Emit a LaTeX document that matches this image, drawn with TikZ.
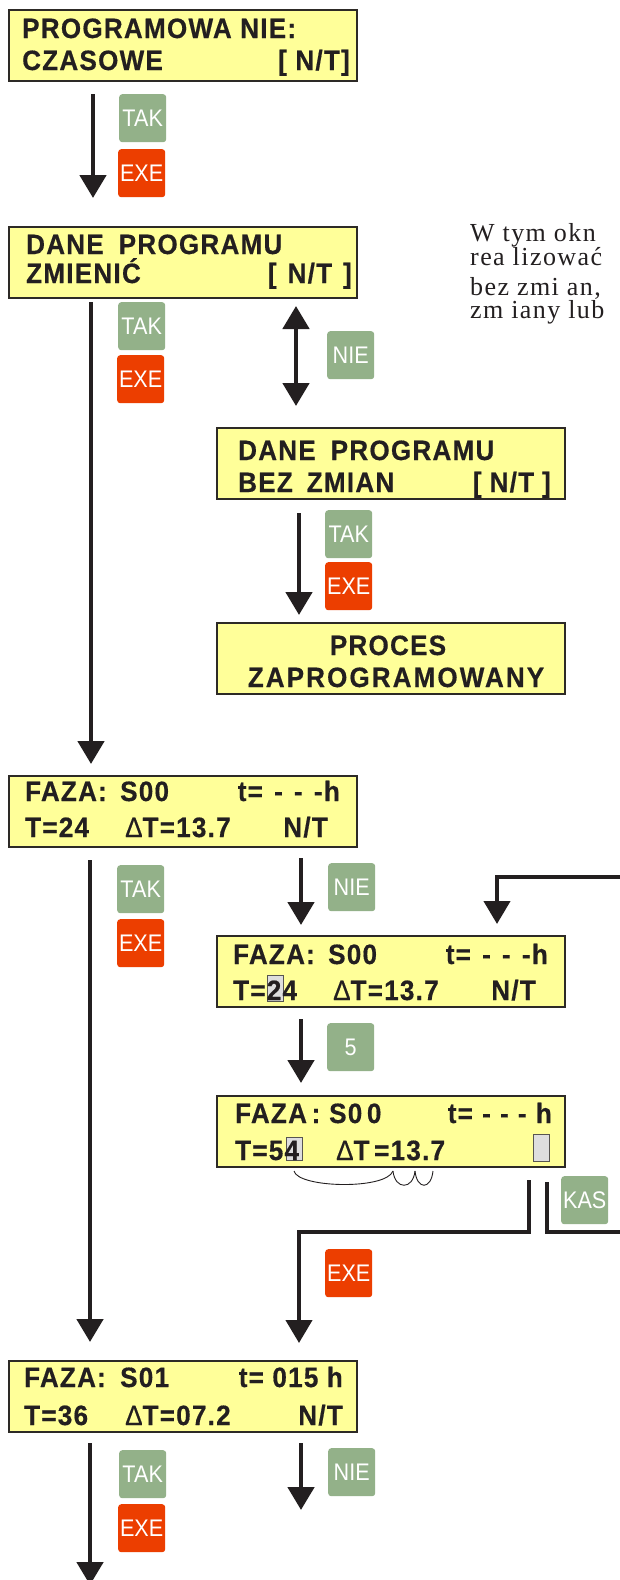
\documentclass[tikz,border=0pt]{standalone}
\usepackage{fontspec}
\setmainfont{Liberation Sans}
\newfontfamily\lcdfont{Liberation Sans}[LetterSpace=4.5,FakeStretch=0.93,FakeBold=0.5]
\newfontfamily\lcdwidefont{Liberation Sans}[LetterSpace=7.5,FakeStretch=0.93,FakeBold=0.5]
\newfontfamily\keyfont{Liberation Sans}[FakeStretch=0.9]
\newfontfamily\notefont{Liberation Serif}[LetterSpace=5.5]
\usetikzlibrary{arrows.meta,calc}
\definecolor{lcdfill}{RGB}{255,255,153}
\definecolor{lcdline}{RGB}{45,42,38}
\definecolor{keygreen}{RGB}{147,177,137}
\definecolor{keyred}{RGB}{236,62,0}
\definecolor{ink}{RGB}{35,31,32}
\definecolor{cursorgray}{RGB}{222,222,222}
\begin{document}
\begin{tikzpicture}[x=1pt,y=-1pt,
  lcdbox/.style={draw=lcdline, fill=lcdfill, line width=2pt, minimum width=348pt, minimum height=71pt, anchor=north west, inner sep=0pt, outer sep=0pt},
  lcdtxt/.style={inner sep=0pt, text=ink, font=\lcdfont\bfseries\fontsize{28}{28}\selectfont},
  lw/.style={anchor=base west},
  le/.style={anchor=base east},
  lc/.style={anchor=base},
  keybase/.style={rounded corners=3pt, minimum width=47pt, minimum height=48pt, anchor=north west, inner sep=0pt, text=white, font=\keyfont\fontsize{24}{24}\selectfont},
  gkey/.style={keybase, fill=keygreen},
  rkey/.style={keybase, fill=keyred},
  arr/.style={draw=ink, line width=4.8pt, -{Triangle[width=26pt,length=23pt]}},
  darr/.style={draw=ink, line width=4.8pt, {Triangle[width=26pt,length=23pt]}-{Triangle[width=26pt,length=23pt]}},
  conn/.style={draw=ink, line width=4.3pt, line join=miter, -{Triangle[width=26pt,length=23pt]}},
  note/.style={inner sep=0pt, anchor=north west, align=left, text=ink, font=\notefont\fontsize{26}{21}\selectfont},
  cursorbox/.style={fill=cursorgray, draw=lcdline!80, line width=1pt},
  brace/.style={draw=ink, line width=0.9pt}
]
\useasboundingbox (0,0) rectangle (620,1580);
\clip (0,0) rectangle (620,1580);
\fill[white] (0,0) rectangle (620,1580);

% Box 1
\node[lcdbox] (b1) at (9,10) {};
\node[lcdtxt,lw] (b1a) at (22,38) {PROGRAMOWA NIE:};
\node[lcdtxt,lw] (b1b) at (22,70) {CZASOWE};
\node[lcdtxt,le] (b1c) at (350,70) {[ N/T]};

% Box 2
\node[lcdbox] (b2) at (9,227) {};
\node[lcdtxt,lw] (b2a) at (26,254) {DANE\hspace{15pt}PROGRAMU};
\node[lcdtxt,lw] (b2b) at (26,283) {ZMIENIĆ};
\node[lcdtxt,le] (b2c) at (352,283) {[\hspace{11pt}N/T\hspace{11pt}]};

% Box 3
\node[lcdbox] (b3) at (217,428) {};
\node[lcdtxt,lw] (b3a) at (238,460) {DANE\hspace{15pt}PROGRAMU};
\node[lcdtxt,lw] (b3b) at (238,492) {BEZ\hspace{14pt}ZMIAN};
\node[lcdtxt,le] (b3c) at (551,492) {[\hspace{8pt}N/T\hspace{8pt}]};

% Box PROCES
\node[lcdbox] (bp) at (217,623) {};
\node[lcdtxt,lc] (bpa) at (388,655) {PROCES};
\node[lcdtxt,lc,font=\lcdwidefont\bfseries\fontsize{28}{28}\selectfont] (bpb) at (396,687) {ZAPROGRAMOWANY};

% Box 4
\node[lcdbox] (b4) at (9,776) {};
\node[lcdtxt,lw] (b4a) at (25,801) {FAZA:};
\node[lcdtxt,lw] (b4b) at (120,801) {S00};
\node[lcdtxt,le] (b4c) at (340,801) {\makebox[102pt][s]{t= - - -h}};
\node[lcdtxt,lw] (b4d) at (25,837) {T=24};
\node[lcdtxt,lw] (b4e) at (125,837) {{\mdseries Δ}T=13.7};
\node[lcdtxt,le] (b4f) at (328,837) {N/T};

% Box 5
\node[lcdbox] (b5) at (217,936) {};
\draw[cursorbox] (267,975) rectangle (283,1001);
\node[lcdtxt,lw] (b5a) at (233,964) {FAZA:};
\node[lcdtxt,lw] (b5b) at (328,964) {S00};
\node[lcdtxt,le] (b5c) at (548,964) {\makebox[102pt][s]{t= - - -h}};
\node[lcdtxt,lw] (b5d) at (233,1000) {T=24};
\node[lcdtxt,lw] (b5e) at (333,1000) {{\mdseries Δ}T=13.7};
\node[lcdtxt,le] (b5f) at (536,1000) {N/T};

% Box 6
\node[lcdbox] (b6) at (217,1096) {};
\draw[cursorbox] (286,1137) rectangle (302,1160);
\draw[cursorbox] (533,1134) rectangle (549,1161);
\node[lcdtxt,lw] (b6a) at (235,1123) {FAZA\,:};
\node[lcdtxt,lw] (b6b) at (329,1123) {S0\,0};
\node[lcdtxt,le] (b6c) at (552,1123) {\makebox[104pt][s]{t= - - - h}};
\node[lcdtxt,lw] (b6d) at (235,1160) {T=54};
\node[lcdtxt,lw] (b6e) at (336,1160) {{\mdseries Δ}T\,=13.7};

% Box 7
\node[lcdbox] (b7) at (9,1361) {};
\node[lcdtxt,lw] (b7a) at (24,1387) {FAZA:};
\node[lcdtxt,lw] (b7b) at (120,1387) {S01};
\node[lcdtxt,le] (b7c) at (343,1387) {t= 015 h};
\node[lcdtxt,lw] (b7d) at (24,1425) {T=36};
\node[lcdtxt,lw] (b7e) at (125,1425) {{\mdseries Δ}T=07.2};
\node[lcdtxt,le] (b7f) at (343,1425) {N/T};

% Side note (two short paragraphs)
\node[note] (n1) at (470,223) {W tym okn\\rea lizować};
\node[note, font=\notefont\fontsize{26}{18}\selectfont] (n2) at (470,277) {bez zmi an,\\zm iany lub};

% Keys
\node[gkey] (k1) at (119,94) {TAK};
\node[rkey] (k2) at (118,149) {EXE};
\node[gkey] (k3) at (118,302) {TAK};
\node[rkey] (k4) at (117,355) {EXE};
\node[gkey] (k5) at (327,331) {NIE};
\node[gkey] (k6) at (325,510) {TAK};
\node[rkey] (k7) at (325,562) {EXE};
\node[gkey] (k8) at (117,865) {TAK};
\node[rkey] (k9) at (117,919) {EXE};
\node[gkey] (k10) at (328,863) {NIE};
\node[gkey] (k11) at (327,1023) {5};
\node[gkey] (k12) at (561,1176) {KAS};
\node[rkey] (k13) at (325,1249) {EXE};
\node[gkey] (k14) at (119,1450) {TAK};
\node[rkey] (k15) at (118,1504) {EXE};
\node[gkey] (k16) at (328,1448) {NIE};

% Brace marks under box 6
\draw[brace] (294,1171) .. controls (298,1188) and (386,1190) .. (393,1171);
\draw[brace] (393,1171) .. controls (395,1190) and (413,1190) .. (415,1171);
\draw[brace] (415,1171) .. controls (417,1190) and (431,1190) .. (433,1171);

% Connectors
\draw[arr] ($(b1.south west)+(84,13)$) -- ($(b2.north west)+(84,-29)$);
\draw[arr] ($(b2.south west)+(82,4)$) -- ($(b4.north west)+(82,-12)$);
\draw[darr] ($(b2.south west)+(287,8)$) -- ($(b3.north west)+(79,-22)$);
\draw[arr] ($(b3.south west)+(82,14)$) -- ($(bp.north west)+(82,-8)$);
\draw[arr] ($(b4.south west)+(81,13)$) -- ($(b7.north west)+(81,-19)$);
\draw[arr] ($(b4.south west)+(292,11)$) -- ($(b5.north west)+(84,-11)$);
\coordinate (kasR) at (640,1232);
\coordinate (kasT) at (640,877);
\draw[conn] ($(b6.south west)+(330,15)$) |- (kasR) -- (kasT) -| ($(b5.north west)+(280,-12)$);
\draw[arr] ($(b5.south west)+(84,12)$) -- ($(b6.north west)+(84,-13)$);
\draw[conn] ($(b6.south west)+(312,13)$) -- ++(0,52) -| ($(b7.north west)+(290,-18)$);
\coordinate (endL) at (90,1585);
\coordinate (endR) at (301,1510);
\draw[arr] ($(b7.south west)+(81,11)$) -- (endL);
\draw[arr] ($(b7.south west)+(292,11)$) -- (endR);
\end{tikzpicture}
\end{document}
